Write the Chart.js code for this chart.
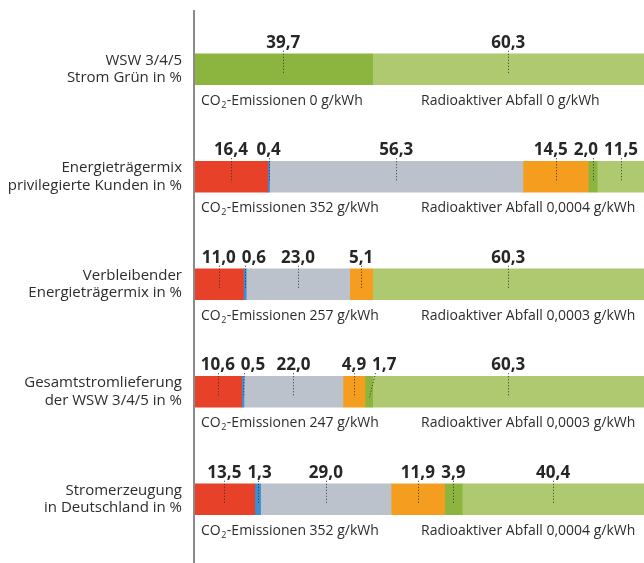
<!DOCTYPE html>
<html>
<head>
<meta charset="utf-8">
<script src="https://cdn.jsdelivr.net/npm/chart.js@4.4.1/dist/chart.umd.min.js"></script>
<style>
  html, body { margin: 0; padding: 0; background: #ffffff; }
  #wrap { width: 644px; height: 563px; position: relative; }
</style>
</head>
<body>
<div id="wrap"><canvas id="c" width="644" height="563"></canvas></div>
<script>
// ---- data ----
const categories = [
  ["WSW 3/4/5", "Strom Grün in %"],
  ["Energieträgermix", "privilegierte Kunden in %"],
  ["Verbleibender", "Energieträgermix in %"],
  ["Gesamtstromlieferung", "der WSW 3/4/5 in %"],
  ["Stromerzeugung", "in Deutschland in %"]
];
const seriesNames = ["Kohle", "Sonstige fossile", "Kernkraft", "Erdgas", "Erneuerbare (EEG)", "Erneuerbare"];
const kohle      = [null, 16.4, 11.0, 10.6, 13.5];
const sonstige   = [null, 0.4, 0.6, 0.5, 1.3];
const kernkraft  = [null, 56.3, 23.0, 22.0, 29.0];
const erdgas     = [null, 14.5, 5.1, 4.9, 11.9];
const eeg        = [39.7, 2.0, null, 1.7, 3.9];
const erneuerbar = [60.3, 11.5, 60.3, 60.3, 40.4];
const co2Values   = ["0", "352", "257", "247", "352"];
const wasteValues = ["0", "0,0004", "0,0003", "0,0003", "0,0004"];

const seriesData = [kohle, sonstige, kernkraft, erdgas, eeg, erneuerbar];
const seriesColors = ["#E7412A", "#3A8FD5", "#BCC2CC", "#F59D1F", "#8CB53F", "#AEC970"];

const FONT = "'Open Sans', 'DejaVu Sans', sans-serif";
const TEXT = "#2d2d2d";

function fmt(v) { return v.toFixed(1).replace('.', ','); }

const labelPlugin = {
  id: 'segLabels',
  afterDatasetsDraw(chart) {
    const ctx = chart.ctx;
    const area = chart.chartArea;
    const nCat = categories.length;
    ctx.save();
    for (let i = 0; i < nCat; i++) {
      const items = [];
      let barTop = null, barBottom = null;
      chart.data.datasets.forEach((ds, di) => {
        const v = ds.data[i];
        const meta = chart.getDatasetMeta(di);
        const el = meta.data[i];
        if (!el) return;
        const h = el.height;
        barTop = el.y - h / 2; barBottom = el.y + h / 2;
        if (v == null || v <= 0) return;
        let x0 = Math.min(el.x, el.base), x1 = Math.max(el.x, el.base);
        x0 = Math.max(x0, area.left); x1 = Math.min(x1, area.right);
        items.push({ cx: (x0 + x1) / 2, text: fmt(v) });
      });
      // labels
      ctx.font = "bold 17px " + FONT;
      items.forEach(it => { it.w = ctx.measureText(it.text).width; it.c = it.cx; });
      const gap = 6;
      let prevRight = area.left + 2 - gap;
      items.forEach(it => {
        it.c = Math.max(it.c, prevRight + gap + it.w / 2);
        prevRight = it.c + it.w / 2;
      });
      let nextLeft = area.right - 6 + gap;
      for (let k = items.length - 1; k >= 0; k--) {
        const it = items[k];
        it.c = Math.min(it.c, nextLeft - gap - it.w / 2);
        nextLeft = it.c - it.w / 2;
      }
      const baseY = barTop - 6;
      ctx.fillStyle = "#262626";
      ctx.textAlign = "left";
      ctx.textBaseline = "alphabetic";
      items.forEach(it => {
        ctx.fillText(it.text, it.c - it.w / 2, baseY);
      });
      // leader lines
      ctx.strokeStyle = "#333333";
      ctx.lineWidth = 1;
      ctx.setLineDash([1, 2]);
      const barH = barBottom - barTop;
      items.forEach(it => {
        const left = it.c - it.w / 2 + 3, right = it.c + it.w / 2 - 3;
        const topX = Math.min(Math.max(it.cx, left), right);
        const x = Math.round(it.cx) + 0.5;
        ctx.beginPath();
        ctx.moveTo(Math.round(topX) + 0.5, baseY + 3);
        ctx.lineTo(x, barTop + barH * 0.68);
        ctx.stroke();
      });
      ctx.setLineDash([]);
      // texts below the bar
      const ty = barBottom + 20;
      drawCO2(ctx, area.left + 7, ty, "-Emissionen " + co2Values[i] + " g/kWh");
      ctx.font = "14px " + FONT;
      ctx.fillStyle = TEXT;
      ctx.fillText("Radioaktiver Abfall " + wasteValues[i] + " g/kWh", area.left + 227, ty);
    }
    // vertical axis line
    ctx.strokeStyle = "#8a8a8a";
    ctx.lineWidth = 2;
    ctx.beginPath();
    ctx.moveTo(area.left, 10);
    ctx.lineTo(area.left, chart.height);
    ctx.stroke();
    ctx.restore();
  }
};

function drawCO2(ctx, x, y, rest) {
  ctx.fillStyle = TEXT;
  ctx.textAlign = "left";
  ctx.textBaseline = "alphabetic";
  ctx.font = "14px " + FONT;
  ctx.fillText("CO", x, y);
  let w = ctx.measureText("CO").width;
  ctx.font = "9px " + FONT;
  ctx.fillText("2", x + w + 0.5, y + 3);
  w += ctx.measureText("2").width + 1;
  ctx.font = "14px " + FONT;
  ctx.fillText(rest, x + w, y);
}

const chart = new Chart(document.getElementById('c'), {
  type: 'bar',
  data: {
    labels: categories,
    datasets: seriesData.map((d, k) => ({
      label: seriesNames[k],
      data: d,
      backgroundColor: seriesColors[k],
      borderWidth: 0,
      barThickness: 31
    }))
  },
  options: {
    indexAxis: 'y',
    responsive: false,
    animation: false,
    devicePixelRatio: 1,
    layout: { padding: { top: 15.5, bottom: 10, left: 0, right: 0 } },
    plugins: { legend: { display: false }, tooltip: { enabled: false } },
    scales: {
      x: { stacked: true, min: 0, max: 100, display: false },
      y: {
        stacked: true,
        grid: { display: false, drawTicks: false },
        border: { display: false },
        afterFit(scale) {
          scale.width = 194;
          scale.paddingTop = 0;
          scale.paddingBottom = 0;
        },
        ticks: {
          padding: 12,
          color: TEXT,
          font: { family: FONT, size: 15, lineHeight: 1.17 }
        }
      }
    }
  },
  plugins: [labelPlugin]
});
</script>
</body>
</html>
